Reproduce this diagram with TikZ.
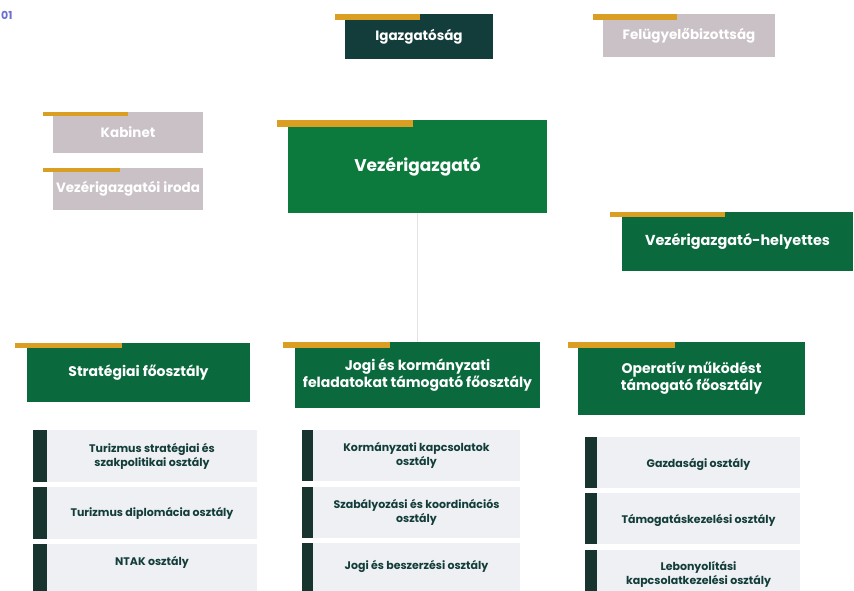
\documentclass[tikz,border=0pt]{standalone}
\usepackage{fontspec}
\setmainfont{Poppins}
\definecolor{mainGreen}{HTML}{0B7A3C}
\definecolor{deepGreen}{HTML}{0A6A3E}
\definecolor{darkTeal}{HTML}{133D3A}
\definecolor{mauveGray}{HTML}{C9C1C6}
\definecolor{barGold}{HTML}{D99E22}
\definecolor{subGray}{HTML}{EEF0F3}
\definecolor{subBar}{HTML}{17352E}
\definecolor{linkGray}{HTML}{E4E4E4}
\definecolor{pageBlue}{HTML}{6E6ED2}
\begin{document}
\begin{tikzpicture}[x=1pt,y=1pt]
\tikzstyle{every node}+=[inner sep=0pt]
\tikzstyle{unit}=[rectangle, text=white, align=center, font=\bfseries\fontsize{13.5}{16}\selectfont]
\tikzstyle{head}=[unit, fill=deepGreen, font=\fontsize{14}{17}\selectfont\bfseries]
\tikzstyle{sub}=[rectangle, fill=subGray, text=darkTeal, align=center, font=\bfseries\fontsize{11}{14}\selectfont]
\tikzstyle{gold}=[fill=barGold]
\clip (0,0) rectangle (854,-591);
\fill[white] (0,0) rectangle (854,-591);
\node[text=pageBlue, font=\bfseries\fontsize{11}{12}\selectfont, anchor=west] (pg) at (1,-15) {01};
% top row
\node[unit, fill=darkTeal, minimum width=148, minimum height=45] (igaz) at (419,-36.5) {Igazgatóság};
\fill[gold] ([xshift=-10]igaz.north west) rectangle ++(85,-6);
\node[unit, fill=mauveGray, minimum width=172, minimum height=43] (felu) at (689,-35.5) {Felügyelőbizottság};
\fill[gold] ([xshift=-10]felu.north west) rectangle ++(84,-6);
\node[unit, fill=mauveGray, minimum width=150, minimum height=41] (kab) at (128,-132.5) {Kabinet};
\fill[gold] ([xshift=-10]kab.north west) rectangle ++(85,-4);
\node[unit, fill=mauveGray, minimum width=150, minimum height=42] (iroda) at (128,-189) {Vezérigazgatói iroda};
\fill[gold] ([xshift=-10]iroda.north west) rectangle ++(77,-4);
% management
\node[unit, fill=mainGreen, minimum width=259, minimum height=93, font=\bfseries\fontsize{17}{20}\selectfont] (vez) at (417.5,-166.5) {Vezérigazgató};
\fill[gold] ([xshift=-11]vez.north west) rectangle ++(136,-7);
\node[unit, fill=deepGreen, minimum width=231, minimum height=59, font=\bfseries\fontsize{14.4}{17}\selectfont] (helyt) at (737.5,-241.5) {Vezérigazgató-helyettes};
\fill[gold] ([xshift=-12]helyt.north west) rectangle ++(115,-5);
% departments
\node[head, minimum width=223, minimum height=59] (strat) at (138.5,-372.5) {Stratégiai főosztály};
\fill[gold] ([xshift=-12]strat.north west) rectangle ++(107,-5);
\node[head, minimum width=245, minimum height=66] (jogi) at (417.5,-375) {Jogi és kormányzati\\feladatokat támogató főosztály};
\fill[gold] ([xshift=-12]jogi.north west) rectangle ++(107,-6);
\node[head, minimum width=227, minimum height=73] (oper) at (691.5,-378.5) {Operatív működést\\támogató főosztály};
\fill[gold] ([xshift=-10]oper.north west) rectangle ++(107,-6);
\draw[linkGray, line width=0.8] (vez.south) -- (jogi.north);
% sections
\node[sub, minimum width=210, minimum height=52] (s1) at (152,-456) {Turizmus stratégiai és\\szakpolitikai osztály};
\node[sub, minimum width=210, minimum height=52] (s2) at (152,-513) {Turizmus diplomácia osztály};
\node[sub, minimum width=210, minimum height=52, text depth=18] (s3) at (152,-570) {NTAK osztály};
\node[sub, minimum width=207, minimum height=51] (j1) at (416.5,-455.5) {Kormányzati kapcsolatok\\osztály};
\node[sub, minimum width=207, minimum height=51] (j2) at (416.5,-512.5) {Szabályozási és koordinációs\\osztály};
\node[sub, minimum width=207, minimum height=52, text depth=8] (j3) at (416.5,-569) {Jogi és beszerzési osztály};
\node[sub, minimum width=203, minimum height=51, text depth=-6] (o1) at (698.5,-462.5) {Gazdasági osztály};
\node[sub, minimum width=203, minimum height=51, text depth=-6] (o2) at (698.5,-518.5) {Támogatáskezelési osztály};
\node[sub, minimum width=203, minimum height=51, text depth=6] (o3) at (698.5,-575.5) {Lebonyolítási\\kapcsolatkezelési osztály};
\foreach \s/\w in {s1/14,s2/14,s3/14,j1/11,j2/11,j3/11,o1/12,o2/12,o3/12}
  \fill[subBar] (\s.north west) rectangle ([xshift=-\w]\s.south west);
\end{tikzpicture}
\end{document}
